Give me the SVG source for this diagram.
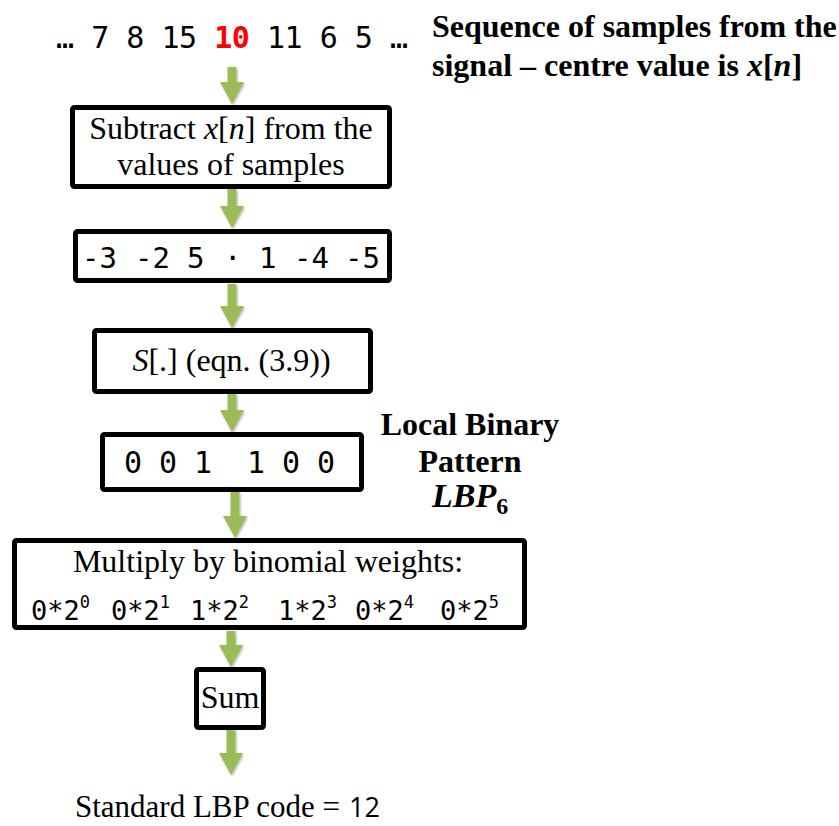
<svg xmlns="http://www.w3.org/2000/svg" width="839" height="826" viewBox="0 0 839 826">
<style>
.box{fill:#fff;stroke:#000;stroke-width:5;}
.arr{fill:#9BBB59;}
.serif{font-family:"Liberation Serif","Times New Roman",serif;font-size:32px;fill:#000;}
.bold{font-weight:bold;}
.it{font-style:italic;}
.mono{font-family:"DejaVu Sans Mono","Liberation Mono",monospace;fill:#000;}
.sans{font-family:"Open Sans","Liberation Sans",sans-serif;fill:#000;}
</style>
<defs>
<filter id="sh" x="-30%" y="-30%" width="160%" height="160%">
<feDropShadow dx="1" dy="1.5" stdDeviation="1.2" flood-color="#000" flood-opacity="0.3"/>
</filter>
</defs>
<rect width="839" height="826" fill="#fff"/>

<g id="connectors" class="arr" filter="url(#sh)">
<polygon points="227.5,67 236.5,67 236.5,82 244,82 232,104 220,82 227.5,82"/>
<polygon points="227.5,189 236.5,189 236.5,206 244,206 232,228 220,206 227.5,206"/>
<polygon points="227.5,284 236.5,284 236.5,306 244,306 232,328 220,306 227.5,306"/>
<polygon points="227.5,394 236.5,394 236.5,410 244,410 232,432 220,410 227.5,410"/>
<polygon points="230.5,492 239.5,492 239.5,516 247,516 235,538 223,516 230.5,516"/>
<polygon points="226.5,631 235.5,631 235.5,645 243,645 231,667 219,645 226.5,645"/>
<polygon points="226.5,730 235.5,730 235.5,753 243,753 231,775 219,753 226.5,753"/>
</g>

<g id="sequence">
<text class="mono" x="56" y="48" font-size="30" textLength="352" lengthAdjust="spacing">… 7 8 15 <tspan fill="#FF0000" font-weight="bold">10</tspan> 11 6 5 …</text>
</g>

<g id="sequence-label">
<text class="serif bold" x="432" y="37">Sequence of samples from the</text>
<text class="serif bold" x="432" y="76">signal – centre value is <tspan class="it">x</tspan>[<tspan class="it">n</tspan>]</text>
</g>

<g id="subtract">
<rect class="box" x="72.5" y="107.5" width="317" height="79" rx="2"/>
<text class="serif" x="231" y="139" text-anchor="middle">Subtract <tspan class="it">x</tspan>[<tspan class="it">n</tspan>] from the</text>
<text class="serif" x="231" y="175" text-anchor="middle">values of samples</text>
</g>

<g id="differences">
<rect class="box" x="75.5" y="231.5" width="314" height="49" rx="2"/>
<text class="mono" font-size="29" y="268"><tspan x="82">-3</tspan><tspan x="135">-2</tspan><tspan x="187">5</tspan><tspan x="224">·</tspan><tspan x="259">1</tspan><tspan x="294">-4</tspan><tspan x="345">-5</tspan></text>
</g>

<g id="sign-function">
<rect class="box" x="94.5" y="330.5" width="276" height="61" rx="2"/>
<text class="serif" x="231.5" y="371" text-anchor="middle"><tspan class="it">S</tspan>[.] (eqn. (3.9))</text>
</g>

<g id="binary-pattern">
<rect class="box" x="102.5" y="434.5" width="259" height="55" rx="2"/>
<text class="mono" font-size="30" y="473" x="124 159 194 247 282 317">001100</text>
</g>

<g id="lbp-label">
<text class="serif bold" x="470" y="435" text-anchor="middle">Local Binary</text>
<text class="serif bold" x="470" y="472" text-anchor="middle">Pattern</text>
<text class="serif bold" x="432" y="507"><tspan class="it" font-size="34">LBP</tspan><tspan font-size="24" dy="7">6</tspan></text>
</g>

<g id="multiply">
<rect class="box" x="14.5" y="540.5" width="510" height="87" rx="2"/>
<text class="serif" x="268" y="572" text-anchor="middle">Multiply by binomial weights:</text>
<text class="mono" font-size="27" y="620">
<tspan x="31">0*2</tspan><tspan font-size="17" dy="-12">0</tspan>
<tspan x="111" dy="12">0*2</tspan><tspan font-size="17" dy="-12">1</tspan>
<tspan x="190" dy="12">1*2</tspan><tspan font-size="17" dy="-12">2</tspan>
<tspan x="278" dy="12">1*2</tspan><tspan font-size="17" dy="-12">3</tspan>
<tspan x="355" dy="12">0*2</tspan><tspan font-size="17" dy="-12">4</tspan>
<tspan x="440" dy="12">0*2</tspan><tspan font-size="17" dy="-12">5</tspan>
</text>
</g>

<g id="sum">
<rect class="box" x="196.5" y="669.5" width="67" height="58" rx="2"/>
<text class="serif" x="230" y="708" text-anchor="middle">Sum</text>
</g>

<g id="result">
<text class="serif" x="75" y="817" font-size="31" textLength="265" lengthAdjust="spacingAndGlyphs">Standard LBP code =</text>
<text class="sans" x="349" y="817" font-size="27">12</text>
</g>
</svg>
